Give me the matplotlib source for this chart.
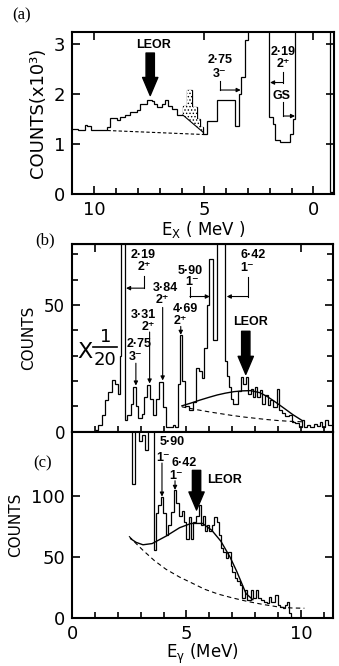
import matplotlib
matplotlib.use('Agg')
import matplotlib.pyplot as plt
from matplotlib.ticker import MultipleLocator
import numpy as np

plt.rcParams['font.family'] = ['DejaVu Sans']
plt.rcParams['mathtext.default'] = 'regular'
plt.rcParams['hatch.linewidth'] = 0.6

# ---- (a) excitation-energy spectrum, counts in units of 1e3 (read left to right, Ex falling)
ex_edges = [11.0, 10.73, 10.42, 10.32, 10.16, 9.43, 9.28, 8.98, 8.83, 8.6, 8.37, 8.06,
            7.91, 7.61, 7.38, 7.27, 7.12, 6.92, 6.77, 6.62, 6.47, 6.24, 5.96, 5.78,
            5.55, 5.32, 5.17, 5.02, 4.87, 4.41, 3.58, 3.42, 3.32, 3.12, 2.97, 2.05,
            1.83, 1.75, 1.52, 1.07, 0.91, 0.84, -0.76, -0.91]
ex_counts = [1.31, 1.29, 1.38, 1.36, 1.28, 1.35, 1.53, 1.49, 1.55, 1.58, 1.65, 1.69,
             1.81, 1.89, 1.86, 1.81, 1.75, 1.80, 1.89, 1.76, 1.71, 1.58, 1.76, 2.08,
             1.75, 1.51, 1.35, 1.21, 1.46, 1.88, 1.36, 2.01, 2.35, 3.08, 4.0, 1.55,
             1.41, 1.08, 1.05, 1.21, 1.50, 4.0, 0.05]
ex_bg_x = [9.4, 5.0]
ex_bg_y = [1.27, 1.19]
stip_x = [5.96, 5.02]          # contaminant peak (stippled)
stip_y = [1.58, 1.23]

# ---- (b) gamma spectrum (x1/20 below ~2.2 MeV)
gb_edges = [1.0, 1.14, 1.29, 1.43, 1.58, 1.73, 1.87, 1.99, 2.08, 2.14,
            2.31, 2.41, 2.56, 2.66, 2.81, 2.9, 3.04, 3.16, 3.27, 3.42,
            3.54, 3.68, 3.8, 3.98, 4.09, 4.39, 4.5, 4.62, 4.71, 4.82,
            4.94, 5.12, 5.29, 5.4, 5.55, 5.66, 5.76, 5.88, 6.0, 6.18,
            6.32, 6.68, 6.76, 6.85, 6.95, 7.05, 7.27, 7.37, 7.49, 7.59,
            7.7, 7.8, 7.92, 8.01, 8.1, 8.22, 8.3, 8.44, 8.54, 8.65,
            8.8, 8.95, 9.02, 9.17, 9.31, 9.46, 9.6, 9.75, 9.9, 10.04,
            10.15, 10.26, 10.4, 10.55, 10.7, 10.82, 10.92, 11.06, 11.2, 11.4]
gb_counts = [0.7, 2.6, 6.6, 12.5, 15.8, 20.4, 19, 15, 30, 120,
             4.6, 6.6, 11, 17.8, 10, 5.3, 7, 13.8, 18.4, 13,
             6.6, 13, 19.7, 9.9, 2, 2.6, 2, 19, 38, 20,
             10, 8.5, 11.8, 25, 24, 21, 33, 50, 68, 36,
             120, 28, 22, 17.5, 13, 11, 16, 21.7, 19, 21.7,
             15, 17, 13.8, 17.8, 13.8, 16.4, 11, 14.5, 10.5, 12.5,
             9.9, 17, 8.6, 7.5, 6, 6.6, 4, 3.3, 2, 4.6,
             2, 2.6, 2, 3, 2.3, 4, 2, 4.6, 2.6]
gb_fit_x = [4.8, 5.2, 5.6, 6.0, 6.35, 6.7, 7.08, 7.45, 7.8, 8.2, 8.54, 8.9, 9.27, 9.65, 10.07]
gb_fit_y = [10.2, 11.3, 12.5, 13.6, 14.5, 15.2, 15.8, 16.1, 16.2, 15.4, 13.8, 11.6, 9.2, 6.7, 4.3]
gb_bg_x = [4.8, 5.5, 6.0, 6.5, 7.0, 7.5, 8.0, 8.5, 9.0, 9.5, 10.07]
gb_bg_y = [9.8, 8.6, 7.8, 7.1, 6.4, 5.8, 5.3, 4.8, 4.4, 4.1, 3.9]

# ---- (c) gamma spectrum, second condition
gc_edges = [2.45, 2.6, 2.77, 2.92, 3.07, 3.2, 3.32, 3.58, 3.68, 3.77,
            3.87, 3.98, 4.09, 4.21, 4.33, 4.44, 4.56, 4.68, 4.8, 4.9,
            5.0, 5.12, 5.2, 5.29, 5.41, 5.53, 5.64, 5.73, 5.82, 5.9,
            5.99, 6.11, 6.21, 6.32, 6.42, 6.52, 6.61, 6.71, 6.81, 6.93,
            7.0, 7.1, 7.22, 7.33, 7.44, 7.54, 7.66, 7.81, 7.92, 8.03,
            8.14, 8.25, 8.39, 8.5, 8.61, 8.71, 8.86, 8.98, 9.1, 9.2,
            9.3, 9.39, 9.49, 9.56, 9.63]
gc_counts = [200, 110, 200, 145, 150, 138, 200, 56, 86, 93,
             99, 86, 68, 76, 87, 105, 94, 84, 88, 79,
             65, 83, 65, 79, 84, 93, 76, 84, 71, 76,
             71, 76, 83, 79, 68, 57, 54, 49, 54, 43,
             38, 32.5, 30, 27, 16, 23, 15, 23, 16, 23,
             16, 15, 13, 12, 17.5, 13, 19, 10.7, 9.3, 8,
             10.7, 13, 3.8, 1]
gc_fit_x = [2.56, 2.8, 3.1, 3.5, 4.1, 4.7, 5.2, 5.7, 6.1, 6.5, 6.9, 7.2, 7.4, 7.6, 7.9]
gc_fit_y = [65, 62, 60, 61, 67, 74, 77.5, 77.5, 72, 63, 50, 38, 29, 20, 15]
gc_bg_x = [2.49, 2.8, 3.1, 3.6, 4.1, 4.7, 5.2, 5.8, 6.4, 7.0, 7.7, 8.4, 9.1, 9.6, 10.15]
gc_bg_y = [67, 61, 55.5, 47, 40, 33.5, 29, 23.5, 19.5, 16.5, 13.4, 10.9, 8.8, 8.2, 8.0]

LAB = dict(fontsize=9, fontweight='bold', ha='center', va='center',
           family=['Liberation Sans', 'DejaVu Sans'])
SMALL = dict(arrowstyle='-|>', lw=0.8, color='k', mutation_scale=6, shrinkA=0, shrinkB=0)


def big_arrow(ax, x, y0, y1, scale=10):
    ax.annotate('', xy=(x, y1), xytext=(x, y0),
                arrowprops=dict(arrowstyle='simple,head_length=1.3,head_width=1.1,tail_width=0.6',
                                fc='k', ec='k', mutation_scale=scale, shrinkA=0, shrinkB=0))


def l_arrow(ax, x, y0, y1, x1):
    ax.plot([x, x], [y0, y1], color='k', lw=0.8)
    ax.annotate('', xy=(x1, y1), xytext=(x, y1), arrowprops=SMALL)


def down_arrow(ax, x, y0, y1):
    ax.annotate('', xy=(x, y1), xytext=(x, y0), arrowprops=SMALL)


def style(ax):
    for s in ax.spines.values():
        s.set_linewidth(1.5)
    ax.tick_params(which='both', direction='in', labelsize=12, width=1.2)
    ax.tick_params(which='major', length=6, pad=5)
    ax.tick_params(which='minor', length=4)


fig = plt.figure(figsize=(3.39, 6.66), dpi=100)
ax_a = fig.add_axes([0.2124, 0.7087, 0.7729, 0.2432])
ax_b = fig.add_axes([0.2124, 0.3518, 0.7699, 0.2818])
ax_c = fig.add_axes([0.2124, 0.0721, 0.7699, 0.2797])

# ---------------- (a)
ax_a.stairs(ex_counts, ex_edges, baseline=None, color='k', lw=0.9)
ax_a.plot(ex_bg_x, ex_bg_y, color='k', lw=0.8, ls=(0, (3, 2)))
i0 = ex_edges.index(stip_x[0])
i1 = ex_edges.index(stip_x[1])
px, py = [stip_x[0]], [stip_y[0]]
for i in range(i0, i1):
    px += [ex_edges[i], ex_edges[i + 1]]
    py += [ex_counts[i], ex_counts[i]]
px.append(stip_x[1])
py.append(stip_y[1])
ax_a.fill(px, py, facecolor='white', edgecolor='k', hatch='.....', lw=0)
ax_a.plot(stip_x, stip_y, color='k', lw=0.8)

ax_a.set_xlim(11.02, -0.94)
ax_a.set_ylim(0, 3.24)
ax_a.xaxis.set_major_locator(MultipleLocator(5))
ax_a.xaxis.set_minor_locator(MultipleLocator(1))
ax_a.yaxis.set_major_locator(MultipleLocator(1))
style(ax_a)
ax_a.tick_params(labelsize=13)
ax_a.tick_params(which='major', top=True, right=True)
ax_a.set_ylabel('COUNTS(x10³)', fontsize=13, labelpad=5)
ax_a.set_xlabel('E$_X$ ( MeV )', fontsize=12, labelpad=0)

ax_a.text(7.32, 2.98, 'LEOR', **LAB)
big_arrow(ax_a, 7.45, 2.82, 1.97)
ax_a.text(4.25, 2.68, '2·75', **LAB)
ax_a.text(4.3, 2.40, '3⁻', **LAB)
l_arrow(ax_a, 4.25, 2.27, 2.08, 3.32)
ax_a.text(1.38, 2.85, '2·19', **LAB)
ax_a.text(1.38, 2.60, '2⁺', **LAB)
l_arrow(ax_a, 1.37, 2.45, 2.23, 1.98)
ax_a.text(1.45, 1.96, 'GS', **LAB)
l_arrow(ax_a, 1.37, 1.84, 1.56, 0.84)
fig.text(12 / 339, 1 - 15 / 666, '(a)', family='Liberation Serif', fontsize=12, va='center')

# ---------------- (b)
ax_b.stairs(gb_counts, gb_edges, baseline=None, color='k', lw=0.9)
ax_b.plot(gb_fit_x, gb_fit_y, color='k', lw=1.0)
ax_b.plot(gb_bg_x, gb_bg_y, color='k', lw=0.8, ls=(0, (4, 3)))
ax_b.set_xlim(0, 11.4)
ax_b.set_ylim(0, 74)
ax_b.xaxis.set_major_locator(MultipleLocator(5))
ax_b.xaxis.set_minor_locator(MultipleLocator(1))
ax_b.yaxis.set_major_locator(MultipleLocator(50))
ax_b.yaxis.set_minor_locator(MultipleLocator(10))
style(ax_b)
ax_b.tick_params(which='both', right=True, labelbottom=False)
ax_b.tick_params(which='major', length=4, axis='x')
top_b = ax_b.secondary_xaxis('top')
top_b.set_xticks([1, 10])
top_b.tick_params(direction='in', length=6, width=1.2, labeltop=False)
ax_b.set_ylabel('COUNTS', fontsize=11, labelpad=6)

ax_b.text(3.1, 69.8, '2·19', **LAB)
ax_b.text(3.17, 64.8, '2⁺', **LAB)
l_arrow(ax_b, 3.15, 61.5, 56.6, 2.36)
ax_b.text(5.15, 63.5, '5·90', **LAB)
ax_b.text(5.25, 59.2, '1⁻', **LAB)
l_arrow(ax_b, 5.15, 57, 53.3, 6.02)
ax_b.text(4.1, 56.6, '3·84', **LAB)
ax_b.text(3.95, 51.8, '2⁺', **LAB)
down_arrow(ax_b, 3.96, 49, 20.2)
ax_b.text(4.95, 48.3, '4·69', **LAB)
ax_b.text(4.72, 43.8, '2⁺', **LAB)
down_arrow(ax_b, 4.75, 41.5, 38.2)
ax_b.text(3.1, 46.0, '3·31', **LAB)
ax_b.text(3.32, 41.4, '2⁺', **LAB)
down_arrow(ax_b, 3.39, 39.3, 19.0)
ax_b.text(2.95, 34.4, '2·75', **LAB)
ax_b.text(2.78, 29.6, '3⁻', **LAB)
down_arrow(ax_b, 2.79, 27, 18.2)
ax_b.text(7.9, 69.8, '6·42', **LAB)
ax_b.text(7.66, 64.5, '1⁻', **LAB)
l_arrow(ax_b, 7.68, 61, 53.3, 6.76)
ax_b.text(7.8, 43.4, 'LEOR', **LAB)
big_arrow(ax_b, 7.59, 39.6, 22.6)
ax_b.text(0.55, 31.5, 'X', fontsize=16, ha='center', va='center')
ax_b.plot([0.93, 1.97], [33.2, 33.2], color='k', lw=1.2)
ax_b.text(1.45, 37.5, '1', fontsize=13, ha='center', va='center')
ax_b.text(1.45, 28.4, '20', fontsize=13, ha='center', va='center')
fig.text(35 / 339, 1 - 240 / 666, '(b)', family='Liberation Serif', fontsize=12, va='center')

# ---------------- (c)
ax_c.stairs(gc_counts, gc_edges, baseline=None, color='k', lw=0.9)
ax_c.plot(gc_fit_x, gc_fit_y, color='k', lw=1.0)
ax_c.plot(gc_bg_x, gc_bg_y, color='k', lw=0.8, ls=(0, (4, 3)))
ax_c.set_xlim(0, 11.4)
ax_c.set_ylim(0, 152.7)
ax_c.xaxis.set_major_locator(MultipleLocator(5))
ax_c.xaxis.set_minor_locator(MultipleLocator(1))
ax_c.set_yticks([0, 50, 100])
style(ax_c)
ax_c.tick_params(labelsize=13)
ax_c.tick_params(which='major', right=True)
ax_c.set_ylabel('COUNTS', fontsize=11, labelpad=6)
ax_c.set_xlabel('E$_\\gamma$ (MeV)', fontsize=12, labelpad=-1)

ax_c.text(4.39, 144, '5·90', **LAB)
ax_c.text(3.97, 131, '1⁻', **LAB)
down_arrow(ax_c, 3.93, 127, 99.5)
ax_c.text(4.9, 127, '6·42', **LAB)
ax_c.text(4.55, 116.5, '1⁻', **LAB)
down_arrow(ax_c, 4.5, 112.5, 105)
ax_c.text(6.64, 113, 'LEOR', **LAB)
big_arrow(ax_c, 5.44, 121, 88.5)
fig.text(33 / 339, 1 - 463 / 666, '(c)', family='Liberation Serif', fontsize=12, va='center')

fig.savefig('out.png', dpi=100)
